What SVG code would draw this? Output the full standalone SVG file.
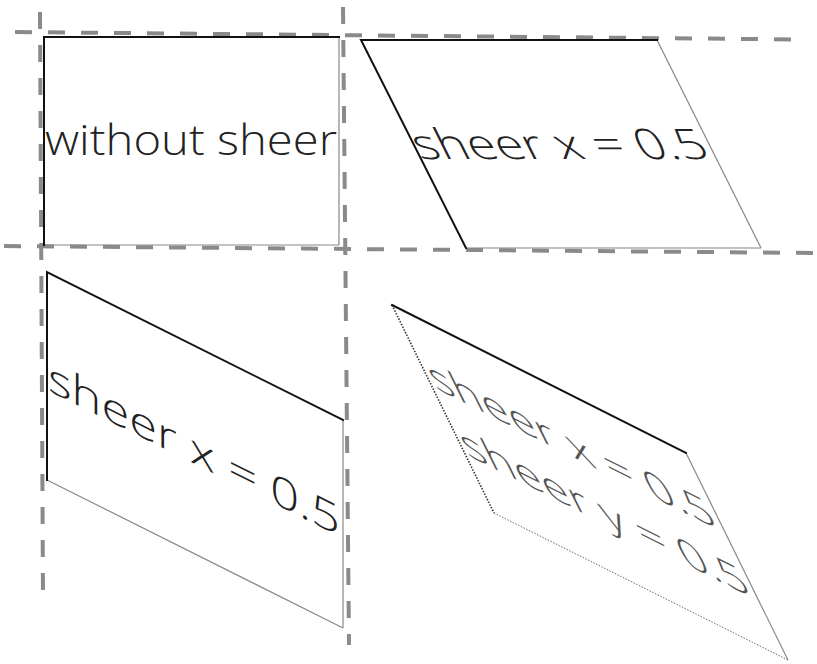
<svg xmlns="http://www.w3.org/2000/svg" width="817" height="664" viewBox="0 0 817 664">
<style>
.guide{stroke:#8a8a8a;stroke-width:4;stroke-dasharray:17 16;fill:none}
.thick{stroke:#111;stroke-width:2;fill:none;stroke-linecap:square}
.thin{stroke:#888;stroke-width:1.2;fill:none}
.dot{stroke:#333;stroke-width:1.6;stroke-dasharray:1.5 1.5;fill:none}
.dotl{stroke:#666;stroke-width:1;stroke-dasharray:1.5 1.5;fill:none}
.lbl{font-family:"Open Sans","DejaVu Sans",sans-serif;font-weight:300;font-size:42px;fill:#222}
.lbl2{font-family:"Open Sans","DejaVu Sans",sans-serif;font-weight:300;font-size:42px;fill:#555}
</style>
<rect width="817" height="664" fill="#fff"/>
<g id="guides">
<line class="guide" x1="15" y1="32" x2="800" y2="39.5"/>
<line class="guide" x1="4" y1="246" x2="817" y2="253"/>
<line class="guide" x1="40" y1="12" x2="43" y2="596"/>
<line class="guide" x1="343" y1="7" x2="349" y2="645"/>
</g>
<g id="plain">
<line class="thin" x1="339" y1="37" x2="339" y2="245"/>
<line class="thin" x1="44" y1="245" x2="339" y2="245"/>
<polyline class="thick" points="44,245 44,37 339,37"/>
<text class="lbl" x="45" y="155" textLength="292" lengthAdjust="spacingAndGlyphs">without sheer</text>
</g>
<g id="shear-x">
<line class="thin" x1="657" y1="40" x2="761" y2="248"/>
<line class="thin" x1="466" y1="248" x2="761" y2="248"/>
<polyline class="thick" points="466,248 361,40 657,40"/>
<text class="lbl" transform="matrix(1,0,0.5,1,361,40)" x="0" y="119" textLength="292" lengthAdjust="spacingAndGlyphs">sheer x = 0.5</text>
</g>
<g id="shear-y">
<line class="thin" x1="343" y1="420" x2="343" y2="628"/>
<line class="thin" x1="47" y1="480" x2="343" y2="628"/>
<polyline class="thick" points="47,480 47,272 343,420"/>
<text class="lbl" transform="matrix(1,0.5,0,1,47,272)" x="1" y="118" textLength="292" lengthAdjust="spacingAndGlyphs">sheer x = 0.5</text>
</g>
<g id="shear-xy">
<line class="thin" x1="686" y1="453" x2="788" y2="660"/>
<line class="dotl" x1="494" y1="513" x2="788" y2="660"/>
<line class="dot" x1="392" y1="305" x2="494" y2="513"/>
<line class="thick" x1="392" y1="305" x2="686" y2="453"/>
<g transform="matrix(1,0.5,0.5,1,392,305)">
<text class="lbl2" x="3" y="82" textLength="284" lengthAdjust="spacingAndGlyphs">sheer x = 0.5</text>
<text class="lbl2" x="1" y="150" textLength="286" lengthAdjust="spacingAndGlyphs">sheer y = 0.5</text>
</g>
</g>
</svg>
